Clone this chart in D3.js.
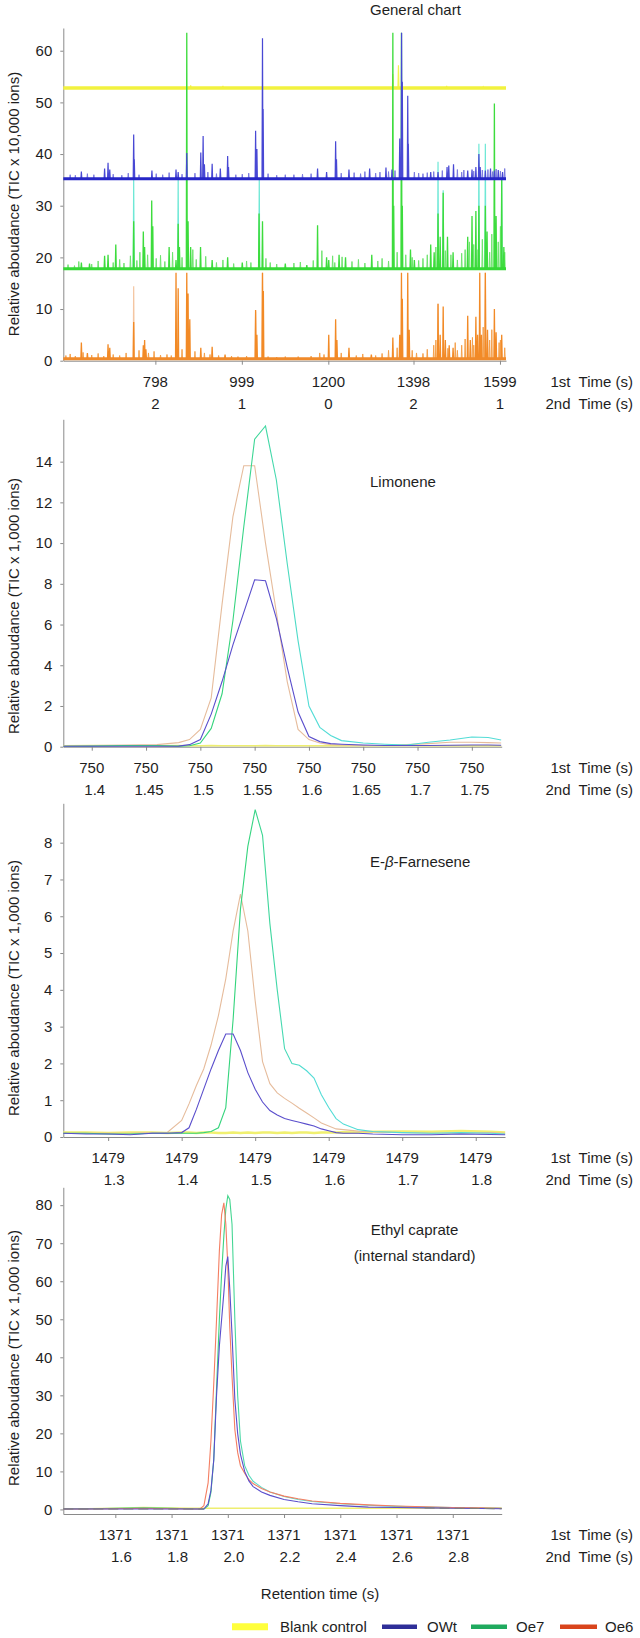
<!DOCTYPE html>
<html><head><meta charset="utf-8">
<script src="https://cdn.jsdelivr.net/npm/d3@7"></script>
<style>
body{margin:0;background:#fff}
svg{display:block}
text{font-family:"Liberation Sans",Arial,Helvetica,sans-serif;fill:#1e1e1e}
</style>
</head><body>
<svg id="chart" width="640" height="1638"></svg>
<script>
// ---------------- DATA ----------------
// Panel 1: General chart (1st dimension time, s)
const genTicks1st = [798, 999, 1200, 1398, 1599];
const genTicks2nd = ["2", "1", "0", "2", "1"];
const genYTicks = [0, 10, 20, 30, 40, 50, 60];
const genBlankLevel = 52.8;
const genBlankPeaks = [[880, 53.3], [955, 53.2], [1350, 55.5], [1363, 57.2], [1475, 53.2], [1560, 53.0]];
const genOWtBase = 35.2;
const genOWtPeaks = [[626, 36.6], [680, 37.2], [688, 38.3], [692, 37.0], [747.6, 43.8], [749, 39], [790, 36.8], [846, 37.0], [851, 36.5], [871, 40.2], [903.6, 40.3], [909, 43.5], [912, 38], [930, 38.1], [949, 37.2], [966, 39.6], [968, 37.5], [1031, 44.5], [1034, 41], [1047, 62.4], [1048.5, 48.7], [1175, 37.2], [1196, 36.5], [1217, 42.5], [1219, 39], [1248, 37.0], [1296, 37.2], [1334, 37.4], [1348, 37.0], [1366, 43], [1370.3, 63.5], [1372, 54], [1384.6, 51.3], [1386, 42], [1438, 36.5], [1455, 36.5], [1476, 37.5], [1480, 37.8], [1491, 38.0], [1524, 36.8], [1534, 37], [1543, 37.5], [1550, 40.0], [1553, 37.5], [1565, 36.8], [1577, 37.2], [1586, 36.8], [1595, 36.9], [1605, 36.5]];
const genOWtNoise = [[600, 36.0], [612, 35.9], [640, 36.2], [655, 36.0], [700, 36.1], [720, 35.9], [735, 36.3], [760, 36.0], [800, 36.2], [815, 36.0], [830, 36.4], [860, 36.1], [890, 36.3], [920, 36.5], [940, 36.2], [985, 36.0], [1000, 36.1], [1015, 36.3], [1060, 36.2], [1080, 35.9], [1100, 36.0], [1120, 36.0], [1140, 36.1], [1160, 36.2], [1230, 36.3], [1260, 36.4], [1275, 36.2], [1285, 36.6], [1310, 36.3], [1320, 36.5], [1340, 36.6], [1355, 36.8], [1400, 36.5], [1410, 36.3], [1420, 36.2], [1430, 36.4], [1445, 36.6], [1465, 36.8], [1500, 37.0], [1510, 36.5], [1515, 36.9], [1538, 36.7], [1558, 36.9], [1571, 37.0], [1582, 36.6], [1590, 37.1], [1600, 36.7], [1610, 37.2]];
const genOe7Base = 17.8;
const genOe7Peaks = [[626, 19.0], [645, 18.8], [680, 20.3], [688, 20.5], [706, 22.5], [747.6, 27.0], [770, 25.0], [773, 22], [789.5, 31.0], [792, 26], [830, 22.0], [846, 19.5], [851, 26.5], [854, 22], [871, 63.5], [874, 27], [880, 22], [903, 22.0], [930, 19.5], [966, 20.0], [1000, 19.0], [1039, 28.5], [1047, 27.0], [1100, 18.8], [1150, 18.5], [1175, 26.2], [1196, 20.0], [1201, 19.5], [1225, 20.5], [1240, 20], [1301, 20.5], [1350, 63.5], [1352, 30], [1370, 63.5], [1372, 30], [1391, 21.5], [1400, 19.5], [1438, 22.5], [1446, 21], [1455, 28.5], [1460, 24], [1467, 32.5], [1477, 24.0], [1490, 21], [1524, 24.0], [1534, 28.0], [1543, 29.0], [1550, 30], [1565, 30.0], [1569, 25], [1586, 49.8], [1590, 28], [1603, 35.0], [1608, 22]];
const genOe7Rep = [[747.6, 35.0], [851, 35.0], [1039.5, 35.0], [1455, 38.5], [1467, 33], [1550, 42.0], [1565, 42.0], [1603, 35.0]];
const genOe7Noise = [[595, 18.6], [610, 18.4], [620, 19.2], [650, 18.7], [665, 19.3], [700, 19.0], [715, 19.6], [725, 18.9], [740, 20.3], [755, 19.4], [762, 21.0], [780, 20.5], [800, 19.8], [810, 20.4], [820, 19.2], [838, 21.0], [860, 20.0], [885, 21.5], [893, 19.6], [915, 20.2], [940, 19.0], [955, 19.5], [980, 18.8], [1010, 19.3], [1020, 19.0], [1055, 19.8], [1065, 19.0], [1080, 18.7], [1120, 18.9], [1135, 19.1], [1165, 19.4], [1185, 21.3], [1210, 20.3], [1215, 19.0], [1232, 20.1], [1255, 19.2], [1270, 19.6], [1285, 18.9], [1315, 19.3], [1325, 19.8], [1340, 19.3], [1360, 21.0], [1380, 20.5], [1395, 20.0], [1410, 19.4], [1420, 19.8], [1430, 20.5], [1450, 22.0], [1472, 21.3], [1485, 20.5], [1500, 19.5], [1510, 20.8], [1518, 21.5], [1528, 23.0], [1538, 22.5], [1548, 21.5], [1558, 23.5], [1575, 21.0], [1580, 24.5], [1595, 23.0], [1600, 26.0], [1610, 21.0]];
const genOe6Base = 0.4;
const genOe6Peaks = [[626, 3.5], [640, 1.5], [688, 3.2], [692, 2.5], [747.6, 7.5], [770, 3.0], [773, 4.0], [776, 2.2], [846, 17.0], [851, 14], [871, 17.0], [874, 13], [878, 8], [903.6, 2.5], [930, 2.7], [960, 1.2], [1031, 9.8], [1034, 5], [1047, 17.0], [1049, 13.5], [1201, 5.0], [1217, 8.0], [1220, 4], [1248, 2.5], [1300, 1.2], [1350, 4.5], [1366, 5], [1370, 17.0], [1372, 12], [1384.6, 17.0], [1388, 6], [1455, 11.0], [1460, 5], [1467, 10.5], [1472, 4], [1481, 3.0], [1490, 2.5], [1524, 8.7], [1530, 4], [1543, 8.5], [1547, 5], [1552, 17.0], [1556, 5], [1565, 17.0], [1570, 6], [1586, 10.0], [1590, 5.5], [1603, 5.0]];
const genOe6Rep = [[747.6, 14.4], [1031, 9.5], [1047, 17], [1455, 11], [1565, 17]];
const genOe6Noise = [[590, 1.0], [600, 1.3], [612, 0.9], [630, 1.6], [650, 1.1], [665, 1.4], [678, 0.9], [700, 1.2], [715, 1.0], [730, 1.5], [760, 2.0], [782, 1.5], [795, 1.8], [810, 1.1], [825, 1.2], [835, 1.0], [860, 2.2], [890, 1.8], [912, 1.5], [925, 1.2], [945, 1.0], [975, 0.9], [990, 0.8], [1010, 0.9], [1060, 0.8], [1080, 0.7], [1100, 0.8], [1130, 0.8], [1160, 0.9], [1180, 1.5], [1190, 1.2], [1230, 1.5], [1265, 1.0], [1280, 1.3], [1310, 1.0], [1325, 1.4], [1340, 2.0], [1360, 2.5], [1395, 2.0], [1405, 1.5], [1420, 1.4], [1430, 2.2], [1445, 3.0], [1450, 4.0], [1478, 2.4], [1495, 3.5], [1500, 2.0], [1510, 3.0], [1518, 4.2], [1535, 4.5], [1538, 3.0], [1560, 6.5], [1575, 4.0], [1580, 6.0], [1597, 3.5], [1600, 4.0], [1610, 2.5]];

// Panel 2: Limonene (2nd dimension time, s)
const limTicks = [1.4, 1.45, 1.5, 1.55, 1.6, 1.65, 1.7, 1.75];
const limTickLabel1st = "750";
const limYTicks = [0, 2, 4, 6, 8, 10, 12, 14];
const limTime  = [1.374, 1.40, 1.43, 1.46, 1.48, 1.49, 1.50, 1.51, 1.52, 1.53, 1.54, 1.55, 1.56, 1.57, 1.58, 1.59, 1.60, 1.61, 1.62, 1.63, 1.65, 1.67, 1.69, 1.71, 1.73, 1.75, 1.765, 1.777];
const limBlank = [0.05, 0.06, 0.05, 0.05, 0.06, 0.05, 0.05, 0.06, 0.05, 0.05, 0.05, 0.05, 0.06, 0.05, 0.05, 0.05, 0.05, 0.05, 0.06, 0.05, 0.05, 0.05, 0.06, 0.05, 0.05, 0.05, 0.05, 0.05];
const limOWt   = [0.02, 0.02, 0.02, 0.02, 0.03, 0.10, 0.35, 1.6, 3.2, 5.0, 6.6, 8.2, 8.15, 6.3, 3.9, 1.7, 0.5, 0.25, 0.15, 0.12, 0.08, 0.06, 0.06, 0.06, 0.07, 0.08, 0.08, 0.07];
const limOe7   = [0.02, 0.03, 0.06, 0.06, 0.03, 0.05, 0.18, 0.9, 2.6, 6.2, 10.8, 15.1, 15.75, 13.1, 9.0, 5.2, 2.0, 0.95, 0.55, 0.30, 0.18, 0.12, 0.08, 0.22, 0.33, 0.48, 0.45, 0.33];
const limOe6   = [0.03, 0.06, 0.08, 0.10, 0.20, 0.35, 0.85, 2.4, 7.0, 11.3, 13.8, 13.8, 10.0, 6.6, 3.2, 0.85, 0.35, 0.18, 0.10, 0.08, 0.06, 0.06, 0.10, 0.15, 0.22, 0.22, 0.20, 0.18];

// Panel 3: E-beta-Farnesene
const farTicks = [1.3, 1.4, 1.5, 1.6, 1.7, 1.8];
const farTickLabel1st = "1479";
const farYTicks = [0, 1, 2, 3, 4, 5, 6, 7, 8];
const farTime  = [1.239, 1.27, 1.30, 1.33, 1.36, 1.38, 1.40, 1.41, 1.42, 1.43, 1.44, 1.45, 1.46, 1.47, 1.48, 1.49, 1.50, 1.51, 1.52, 1.53, 1.54, 1.55, 1.56, 1.57, 1.58, 1.59, 1.60, 1.61, 1.62, 1.64, 1.66, 1.70, 1.74, 1.78, 1.82, 1.84];
const farBlank = [0.12, 0.12, 0.11, 0.12, 0.12, 0.11, 0.12, 0.12, 0.11, 0.12, 0.12, 0.11, 0.11, 0.12, 0.11, 0.12, 0.11, 0.12, 0.12, 0.11, 0.12, 0.11, 0.12, 0.12, 0.11, 0.12, 0.12, 0.12, 0.13, 0.12, 0.14, 0.15, 0.14, 0.16, 0.14, 0.12];
const farOWt   = [0.10, 0.08, 0.08, 0.06, 0.10, 0.10, 0.12, 0.25, 0.75, 1.3, 1.85, 2.35, 2.8, 2.8, 2.35, 1.75, 1.3, 0.95, 0.72, 0.60, 0.50, 0.45, 0.40, 0.35, 0.30, 0.22, 0.17, 0.12, 0.10, 0.10, 0.08, 0.06, 0.06, 0.08, 0.07, 0.06];
const farOe7   = [0.10, 0.10, 0.08, 0.08, 0.10, 0.10, 0.10, 0.10, 0.10, 0.12, 0.15, 0.25, 0.80, 3.2, 6.2, 7.9, 8.9, 8.2, 5.8, 4.0, 2.4, 2.0, 1.95, 1.8, 1.6, 1.15, 0.80, 0.50, 0.35, 0.20, 0.15, 0.12, 0.10, 0.12, 0.10, 0.08];
const farOe6   = [0.10, 0.10, 0.10, 0.10, 0.12, 0.12, 0.45, 0.90, 1.4, 1.85, 2.5, 3.3, 4.3, 5.6, 6.6, 5.6, 3.7, 2.05, 1.45, 1.2, 1.05, 0.92, 0.78, 0.65, 0.52, 0.38, 0.30, 0.22, 0.20, 0.16, 0.14, 0.12, 0.10, 0.10, 0.12, 0.10];

// Panel 4: Ethyl caprate (internal standard)
const ecTicks = [1.6, 1.8, 2.0, 2.2, 2.4, 2.6, 2.8];
const ecTickLabel1st = "1371";
const ecYTicks = [0, 10, 20, 30, 40, 50, 60, 70, 80];
const ecTime  = [1.415, 1.50, 1.60, 1.70, 1.80, 1.86, 1.90, 1.915, 1.93, 1.94, 1.95, 1.96, 1.97, 1.978, 1.986, 1.993, 2.0, 2.007, 2.015, 2.025, 2.035, 2.045, 2.06, 2.075, 2.09, 2.12, 2.15, 2.20, 2.25, 2.30, 2.40, 2.50, 2.60, 2.70, 2.80, 2.90, 2.974];
const ecBlank = [0.2, 0.2, 0.3, 0.5, 0.4, 0.3, 0.3, 0.3, 0.3, 0.3, 0.3, 0.3, 0.3, 0.3, 0.3, 0.3, 0.3, 0.3, 0.3, 0.3, 0.3, 0.3, 0.3, 0.3, 0.3, 0.3, 0.3, 0.3, 0.3, 0.3, 0.3, 0.3, 0.3, 0.3, 0.3, 0.3, 0.3];
const ecOWt   = [0.1, 0.1, 0.1, 0.1, 0.1, 0.1, 0.1, 0.1, 1.5, 5.0, 13.0, 30.0, 43.0, 50.0, 57.0, 64.0, 66.5, 58.0, 46.0, 29.0, 20.0, 14.5, 10.0, 7.5, 6.0, 4.6, 3.7, 2.6, 2.0, 1.5, 1.0, 0.6, 0.5, 0.4, 0.3, 0.25, 0.2];
const ecOe7   = [0.2, 0.2, 0.3, 0.4, 0.3, 0.2, 0.1, 0.1, 1.0, 4.5, 13.0, 32.0, 50.0, 62.0, 72.0, 79.0, 82.5, 81.5, 75.0, 50.0, 30.0, 18.0, 11.5, 9.0, 7.4, 5.8, 4.6, 3.4, 2.6, 2.1, 1.5, 1.1, 0.8, 0.6, 0.5, 0.4, 0.3];
const ecOe6   = [0.1, 0.1, 0.2, 0.3, 0.2, 0.1, 0.1, 1.0, 7.0, 18.0, 33.0, 50.0, 68.0, 77.5, 80.6, 75.0, 64.0, 48.0, 35.0, 21.0, 15.0, 11.5, 9.5, 7.8, 6.8, 5.5, 4.6, 3.5, 2.8, 2.2, 1.6, 1.2, 0.9, 0.7, 0.5, 0.4, 0.3];

// Legend
const legendLabels = ["Blank control", "OWt", "Oe7", "Oe6"];
const legendColors = ["#ffff3c", "#2e2e98", "#1faa5e", "#d9441c"];

// ---------------- DRAWING ----------------
const svg = d3.select("#chart");
svg.append("rect").attr("width", 640).attr("height", 1638).attr("fill", "#fff");
const defs = svg.append("defs");
const FONT = 15;
const AX = "#8a8a8a";

function gradient(id, x0, x1, c0, c1) {
  const g = defs.append("linearGradient").attr("id", id).attr("gradientUnits", "userSpaceOnUse")
    .attr("x1", x0).attr("x2", x1).attr("y1", 0).attr("y2", 0);
  g.append("stop").attr("offset", 0).attr("stop-color", c0);
  g.append("stop").attr("offset", 1).attr("stop-color", c1);
  return `url(#${id})`;
}

function panel(o) {
  const x = d3.scaleLinear().domain(o.xDomain).range([o.left, o.right]);
  const y = d3.scaleLinear().domain(o.yDomain).range([o.bottom, o.top]);
  const gy = svg.append("g").attr("transform", `translate(${o.left},0)`)
    .call(d3.axisLeft(y).tickValues(o.yTicks).tickSize(3).tickPadding(8).tickSizeOuter(0));
  const gx = svg.append("g").attr("transform", `translate(0,${o.bottom})`)
    .call(d3.axisBottom(x).tickValues(o.xTicks).tickSize(4).tickSizeOuter(0).tickFormat(""));
  [gy, gx].forEach(g => {
    g.select(".domain").attr("stroke", AX);
    g.selectAll(".tick line").attr("stroke", AX);
    g.selectAll("text").attr("font-size", FONT).attr("font-family", null).attr("fill", "#1e1e1e");
  });
  svg.append("g").selectAll("text").data(o.xTicks).join("text")
    .attr("x", d => x(d)).attr("y", o.bottom + 21 + 5.4)
    .attr("text-anchor", "middle").attr("font-size", FONT)
    .text((d, i) => o.row1(d, i));
  svg.append("g").selectAll("text").data(o.xTicks).join("text")
    .attr("x", d => x(d) + o.row2dx).attr("y", o.bottom + 43 + 5.4)
    .attr("text-anchor", "middle").attr("font-size", FONT)
    .text((d, i) => o.row2(d, i));
  svg.append("text").attr("x", 633).attr("y", o.bottom + 21 + 5.4).attr("text-anchor", "end")
    .attr("font-size", FONT).style("white-space", "pre").text("1st  Time (s)");
  svg.append("text").attr("x", 633).attr("y", o.bottom + 43 + 5.4).attr("text-anchor", "end")
    .attr("font-size", FONT).style("white-space", "pre").text("2nd  Time (s)");
  svg.append("text").attr("transform", `translate(13,${o.titleY}) rotate(-90)`)
    .attr("text-anchor", "middle").attr("dominant-baseline", "central")
    .attr("font-size", FONT).text(o.yTitle);
  return { x, y };
}

// ----- Panel 1 -----
{
  const p = panel({
    left: 63.3, right: 506, top: 28, bottom: 360.7,
    xDomain: [584, 1613], yDomain: [0, 64.4], yTicks: genYTicks,
    xTicks: genTicks1st, row1: d => String(d), row2: (d, i) => genTicks2nd[i], row2dx: 0,
    titleY: 204, yTitle: "Relative aboudance (TIC x 10,000 ions)"
  });
  const g = svg.append("g");
  const line = d3.line().x(d => p.x(d[0])).y(d => p.y(d[1]));
  const W = 1.1;
  const spikes = (peaks, base) => peaks.map(([t, h]) => line([[t - W, base], [t, h], [t + W, base]])).join("");
  const [x0, x1] = p.x.domain();
  const flat = v => line([[x0, v], [x1, v]]);
  g.append("path").attr("d", spikes(genBlankPeaks, genBlankLevel)).attr("fill", "none").attr("stroke", "#f2f250").attr("stroke-width", 1.2);
  g.append("path").attr("d", flat(genBlankLevel)).attr("fill", "none").attr("stroke", "#f2f23e").attr("stroke-width", 3.5);
  g.append("path").attr("d", spikes(genOe6Rep, genOe6Base)).attr("fill", "none").attr("stroke", "#f4c6a2").attr("stroke-width", 1.2);
  g.append("path").attr("d", spikes(genOe6Noise, genOe6Base)).attr("fill", "none").attr("stroke", "#f5a04a").attr("stroke-width", 1);
  g.append("path").attr("d", spikes(genOe6Peaks, genOe6Base)).attr("fill", "none").attr("stroke", "#f28a26").attr("stroke-width", 1.3);
  g.append("path").attr("d", flat(genOe6Base)).attr("fill", "none").attr("stroke", "#f08a2a").attr("stroke-width", 3);
  g.append("path").attr("d", spikes(genOe7Rep, genOe7Base)).attr("fill", "none").attr("stroke", "#6ee8d6").attr("stroke-width", 1.2);
  g.append("path").attr("d", spikes(genOe7Noise, genOe7Base)).attr("fill", "none").attr("stroke", "#6fe46f").attr("stroke-width", 1);
  g.append("path").attr("d", spikes(genOe7Peaks, genOe7Base)).attr("fill", "none").attr("stroke", "#3ddc3d").attr("stroke-width", 1.3);
  g.append("path").attr("d", flat(genOe7Base)).attr("fill", "none").attr("stroke", "#35d835").attr("stroke-width", 3);
  g.append("path").attr("d", spikes(genOWtNoise, genOWtBase)).attr("fill", "none").attr("stroke", "#7a7ae0").attr("stroke-width", 1);
  g.append("path").attr("d", spikes(genOWtPeaks, genOWtBase)).attr("fill", "none").attr("stroke", "#4848d4").attr("stroke-width", 1.2);
  g.append("path").attr("d", flat(genOWtBase)).attr("fill", "none").attr("stroke", "#2626c6").attr("stroke-width", 3);

  svg.append("text").attr("x", 370).attr("y", 15.4).attr("font-size", FONT).text("General chart");
}

function traces(p, time, series) {
  const line = d3.line().x((d, i) => p.x(time[i])).y(d => p.y(d));
  series.forEach(s => {
    svg.append("path").attr("d", line(s.v)).attr("fill", "none")
      .attr("stroke", s.c).attr("stroke-width", s.w || 1.1);
  });
}

// ----- Panel 2 -----
{
  const p = panel({
    left: 63.3, right: 501.7, top: 419.3, bottom: 746.7,
    xDomain: [1.3738, 1.7775], yDomain: [0, 16.08], yTicks: limYTicks,
    xTicks: limTicks, row1: () => limTickLabel1st, row2: d => String(d), row2dx: 3,
    titleY: 606, yTitle: "Relative aboudance (TIC x 1,000 ions)"
  });
  const oe7c = gradient("g2", p.x(1.53), p.x(1.6), "#34d47c", "#52dcd6");
  traces(p, limTime, [
    { v: limBlank, c: "#eeee70", w: 1.5 },
    { v: limOe6, c: "#e6bc9c" },
    { v: limOe7, c: oe7c },
    { v: limOWt, c: "#5a4ecc" }
  ]);
  svg.append("text").attr("x", 370).attr("y", 487).attr("font-size", FONT).text("Limonene");
}

// ----- Panel 3 -----
{
  const p = panel({
    left: 63.3, right: 505, top: 803.3, bottom: 1137,
    xDomain: [1.239, 1.8398], yDomain: [0, 9.07], yTicks: farYTicks,
    xTicks: farTicks, row1: () => farTickLabel1st, row2: d => String(d), row2dx: 6,
    titleY: 988, yTitle: "Relative aboudance (TIC x 1,000 ions)"
  });
  const oe7c = gradient("g3", p.x(1.49), p.x(1.57), "#34d47c", "#52dcd6");
  traces(p, farTime, [
    { v: farBlank, c: "#f0f070", w: 2.5 },
    { v: farOe6, c: "#e6bc9c" },
    { v: farOe7, c: oe7c },
    { v: farOWt, c: "#5a4ecc" }
  ]);
  const t = svg.append("text").attr("x", 370).attr("y", 867).attr("font-size", FONT);
  t.append("tspan").text("E-");
  t.append("tspan").attr("font-style", "italic").text("β");
  t.append("tspan").text("-Farnesene");
}

// ----- Panel 4 -----
{
  const p = panel({
    left: 63.3, right: 501.7, top: 1187.3, bottom: 1514,
    xDomain: [1.415, 2.974], yDomain: [-1.2, 84.7], yTicks: ecYTicks,
    xTicks: ecTicks, row1: () => ecTickLabel1st, row2: d => d.toFixed(1), row2dx: 6,
    titleY: 1358, yTitle: "Relative aboudance (TIC x 1,000 ions)"
  });
  const oe7c = gradient("g4", p.x(1.98), p.x(2.1), "#3cd47e", "#5cdcc8");
  traces(p, ecTime, [
    { v: ecBlank, c: "#eeee70", w: 1.5 },
    { v: ecOe7, c: oe7c },
    { v: ecOe6, c: "#f47e62" },
    { v: ecOWt, c: "#5a4ecc" }
  ]);
  // grey dashed overlap of the flat baseline segments (OWt where the traces coincide)
  const base = d3.line().defined((d, i) => ecTime[i] <= 1.915 || ecTime[i] >= 2.7)
    .x((d, i) => p.x(ecTime[i])).y(d => p.y(d));
  svg.append("path").attr("d", base(ecOWt)).attr("fill", "none").attr("stroke", "#7c7c7c")
    .attr("stroke-width", 1.1).attr("stroke-dasharray", "10,5");
  svg.append("text").attr("x", 414.6).attr("y", 1234.7).attr("text-anchor", "middle").attr("font-size", FONT).text("Ethyl caprate");
  svg.append("text").attr("x", 414.6).attr("y", 1261.4).attr("text-anchor", "middle").attr("font-size", FONT).text("(internal standard)");
  svg.append("text").attr("x", 320).attr("y", 1598.7).attr("text-anchor", "middle").attr("font-size", FONT).text("Retention time (s)");
}

// ----- Legend -----
{
  const swX = [232, 382, 471, 560];
  const swW = [36, 35, 36, 37];
  const txX = [280, 427, 516, 605];
  const ly = 1626.7;
  const lg = svg.append("g");
  legendLabels.forEach((lab, i) => {
    lg.append("line").attr("x1", swX[i]).attr("x2", swX[i] + swW[i]).attr("y1", ly).attr("y2", ly)
      .attr("stroke", legendColors[i]).attr("stroke-width", i === 0 ? 7 : 4.5);
    lg.append("text").attr("x", txX[i]).attr("y", ly + 5.4).attr("font-size", FONT).text(lab);
  });
}
</script>
</body></html>
